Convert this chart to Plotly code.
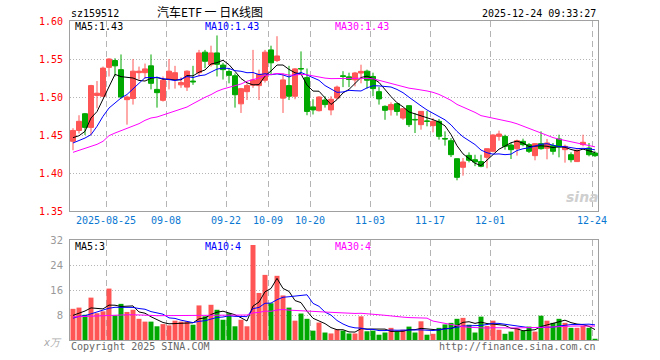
import plotly.graph_objects as go

# ---------------- data ----------------
dates = [
    "2025-08-15",
    "2025-08-18", "2025-08-19", "2025-08-20", "2025-08-21", "2025-08-22",
    "2025-08-25", "2025-08-26", "2025-08-27", "2025-08-28", "2025-08-29",
    "2025-09-01", "2025-09-02", "2025-09-03", "2025-09-04", "2025-09-05",
    "2025-09-08", "2025-09-09", "2025-09-10", "2025-09-11", "2025-09-12",
    "2025-09-15", "2025-09-16", "2025-09-17", "2025-09-18", "2025-09-19",
    "2025-09-22", "2025-09-23", "2025-09-24", "2025-09-25", "2025-09-26",
    "2025-09-29", "2025-09-30",
    "2025-10-09", "2025-10-10",
    "2025-10-13", "2025-10-14", "2025-10-15", "2025-10-16", "2025-10-17",
    "2025-10-20", "2025-10-21", "2025-10-22", "2025-10-23", "2025-10-24",
    "2025-10-27", "2025-10-28", "2025-10-29", "2025-10-30", "2025-10-31",
    "2025-11-03", "2025-11-04", "2025-11-05", "2025-11-06", "2025-11-07",
    "2025-11-10", "2025-11-11", "2025-11-12", "2025-11-13", "2025-11-14",
    "2025-11-17", "2025-11-18", "2025-11-19", "2025-11-20", "2025-11-21",
    "2025-11-24", "2025-11-25", "2025-11-26", "2025-11-27", "2025-11-28",
    "2025-12-01", "2025-12-02", "2025-12-03", "2025-12-04", "2025-12-05",
    "2025-12-08", "2025-12-09", "2025-12-10", "2025-12-11", "2025-12-12",
    "2025-12-15", "2025-12-16", "2025-12-17", "2025-12-18", "2025-12-19",
    "2025-12-22", "2025-12-23", "2025-12-24",
]

opens = [
    1.4417, 1.456, 1.478, 1.460, 1.502, 1.501, 1.539, 1.548, 1.536, 1.4965,
    1.498, 1.532, 1.532, 1.541, 1.510, 1.4956, 1.523, 1.523, 1.516, 1.513,
    1.521, 1.532, 1.559, 1.5425, 1.558, 1.542, 1.5335, 1.528, 1.491, 1.507,
    1.5155, 1.515, 1.522, 1.562, 1.548, 1.4985, 1.515, 1.501, 1.5375, 1.5255,
    1.487, 1.482, 1.496, 1.483, 1.4987, 1.528, 1.5265, 1.5225, 1.5315, 1.534,
    1.527, 1.507, 1.4877, 1.4833, 1.4912, 1.4723, 1.4886, 1.4705, 1.4636, 1.4685,
    1.4623, 1.468, 1.4454, 1.4425, 1.4188, 1.4075, 1.4232, 1.4175, 1.415, 1.4206,
    1.4285, 1.4482, 1.4482, 1.4368, 1.432, 1.4417, 1.4373, 1.4228, 1.4386, 1.4325,
    1.436, 1.4448, 1.4307, 1.4241, 1.415, 1.4373, 1.4329, 1.4263,
]
highs = [
    1.459, 1.476, 1.479, 1.516, 1.521, 1.540, 1.551, 1.551, 1.556, 1.502,
    1.550, 1.540, 1.544, 1.556, 1.527, 1.527, 1.550, 1.541, 1.526, 1.535,
    1.541, 1.562, 1.562, 1.5675, 1.581, 1.545, 1.538, 1.531, 1.512, 1.518,
    1.562, 1.536, 1.562, 1.5675, 1.580, 1.531, 1.541, 1.538, 1.560, 1.5375,
    1.497, 1.501, 1.501, 1.501, 1.515, 1.534, 1.532, 1.533, 1.5425, 1.536,
    1.532, 1.513, 1.489, 1.493, 1.492, 1.4855, 1.489, 1.479, 1.4815, 1.4815,
    1.4723, 1.4711, 1.4548, 1.446, 1.419, 1.4197, 1.4272, 1.424, 1.424, 1.432,
    1.451, 1.4557, 1.4504, 1.4395, 1.4439, 1.4452, 1.4395, 1.4387, 1.4548, 1.4448,
    1.4395, 1.4504, 1.4373, 1.4272, 1.4307, 1.4504, 1.4395, 1.4285,
]
lows = [
    1.430, 1.452, 1.450, 1.450, 1.485, 1.500, 1.527, 1.527, 1.498, 1.4636,
    1.490, 1.523, 1.524, 1.510, 1.486, 1.494, 1.510, 1.511, 1.512, 1.508,
    1.516, 1.527, 1.538, 1.540, 1.527, 1.523, 1.518, 1.486, 1.479, 1.496,
    1.512, 1.496, 1.519, 1.530, 1.546, 1.479, 1.496, 1.497, 1.530, 1.476,
    1.477, 1.481, 1.486, 1.476, 1.497, 1.513, 1.513, 1.514, 1.518, 1.511,
    1.501, 1.490, 1.470, 1.4755, 1.4755, 1.470, 1.4605, 1.4526, 1.457, 1.4614,
    1.4535, 1.4439, 1.436, 1.421, 1.3904, 1.3965, 1.414, 1.409, 1.4075, 1.4062,
    1.4272, 1.4425, 1.4307, 1.4184, 1.4228, 1.4351, 1.4263, 1.4167, 1.4307, 1.418,
    1.4241, 1.4206, 1.4136, 1.414, 1.4145, 1.4351, 1.4219, 1.421,
]
closes = [
    1.456, 1.468, 1.460, 1.515, 1.505, 1.538, 1.550, 1.541, 1.500, 1.500,
    1.534, 1.534, 1.537, 1.518, 1.5057, 1.522, 1.534, 1.532, 1.519, 1.534,
    1.520, 1.558, 1.547, 1.558, 1.543, 1.536, 1.5285, 1.503, 1.511, 1.515,
    1.5225, 1.530, 1.559, 1.545, 1.554, 1.5225, 1.501, 1.537, 1.537, 1.481,
    1.483, 1.500, 1.490, 1.497, 1.513, 1.527, 1.523, 1.5316, 1.5337, 1.522,
    1.511, 1.4975, 1.4825, 1.490, 1.481, 1.4846, 1.4636, 1.470, 1.4811, 1.468,
    1.468, 1.4482, 1.4448, 1.4241, 1.3943, 1.4145, 1.4167, 1.4145, 1.4088, 1.432,
    1.450, 1.4513, 1.4351, 1.4307, 1.4425, 1.4373, 1.4285, 1.4386, 1.432, 1.4395,
    1.4285, 1.4342, 1.4351, 1.4175, 1.430, 1.4404, 1.4241, 1.4228,
]
volumes = [
    10.0, 10.4, 8.1, 13.6, 8.6, 9.2, 16.5, 7.9, 11.6, 9.0,
    9.7, 6.8, 5.9, 5.9, 4.4, 5.1, 4.7, 6.2, 5.9, 5.9,
    4.9, 11.1, 7.6, 11.3, 9.7, 6.5, 8.6, 4.4, 6.5, 4.4,
    30.5, 15.1, 20.9, 11.8, 20.6, 14.3, 10.4, 6.2, 8.5, 6.8,
    3.0, 5.6, 2.4, 2.1, 3.4, 3.0, 2.1, 2.1, 7.6, 2.8,
    3.0, 1.7, 2.4, 3.9, 2.7, 3.3, 4.3, 2.4, 6.0, 1.7,
    2.0, 3.9, 5.0, 5.5, 6.8, 7.1, 4.9, 2.4, 7.5, 4.5,
    6.2, 3.3, 2.0, 2.7, 3.8, 3.0, 4.3, 2.7, 7.8, 6.2,
    5.5, 6.8, 5.5, 3.9, 3.9, 4.6, 3.9, 0.4,
]

# moving-average values before a full window is available
ma5_head = [1.4465, 1.449, 1.4548, 1.4724]
ma10_head = [1.4395, 1.4425, 1.446, 1.4504, 1.4614, 1.4746, 1.4855, 1.4921, 1.4987]
ma30_head = [
    1.4272, 1.4300, 1.4318, 1.4351, 1.4377, 1.4417, 1.4491, 1.4526, 1.4557, 1.4583,
    1.4623, 1.4649, 1.4693, 1.4724, 1.4737, 1.4763, 1.4789, 1.4811, 1.4833, 1.4868,
    1.4912, 1.4956, 1.4996, 1.5031, 1.5075, 1.5105, 1.5127, 1.5149, 1.5171,
]
vma5_head = [7.9, 8.5, 9.3, 10.3]
vma10_head = [7.0, 7.6, 7.8, 8.4, 8.9, 9.5, 10.2, 10.5, 10.5]
vma30_head = [
    7.4, 7.5, 7.6, 7.7, 7.8, 7.9, 8.0, 8.0, 8.1, 8.1,
    8.1, 8.1, 8.0, 7.9, 7.8, 7.8, 7.8, 7.8, 7.8, 7.8,
    7.8, 7.8, 7.8, 7.8, 7.8, 7.8, 7.8, 7.8, 7.9,
]

tick_dates = ["2025-08-25", "2025-09-08", "2025-09-22", "2025-10-09", "2025-10-20",
              "2025-11-03", "2025-11-17", "2025-12-01", "2025-12-24"]
tick_labels = ["2025-08-25", "09-08", "09-22", "10-09", "10-20",
               "11-03", "11-17", "12-01", "12-24"]
price_ticks = [1.35, 1.40, 1.45, 1.50, 1.55, 1.60]
vol_ticks = [8, 16, 24, 32]


def rolling(vals, n, head):
    out = list(head)
    for i in range(len(head), len(vals)):
        out.append(sum(vals[i - n + 1:i + 1]) / n)
    return out


ma5 = rolling(closes, 5, ma5_head)
ma10 = rolling(closes, 10, ma10_head)
ma30 = rolling(closes, 30, ma30_head)
vma5 = rolling(volumes, 5, vma5_head)
vma10 = rolling(volumes, 10, vma10_head)
vma30 = rolling(volumes, 30, vma30_head)

pos = list(range(len(dates)))
tick_pos = [dates.index(d) - 0.5 for d in tick_dates]

UP = "#ff5555"
DOWN = "#00a800"
vol_colors = [UP if c >= o else DOWN for o, c in zip(opens, closes)]

MONO = "DejaVu Sans Mono"
GRID = "#b4b4b4"
BORDER = "#a0a0a0"

fig = go.Figure()
fig.add_trace(go.Candlestick(
    x=pos, open=opens, high=highs, low=lows, close=closes,
    increasing=dict(line=dict(color=UP, width=1), fillcolor=UP),
    decreasing=dict(line=dict(color=DOWN, width=1), fillcolor=DOWN),
    whiskerwidth=0, xaxis="x", yaxis="y", hoverinfo="skip",
))
for vals, col in [(ma5, "#000000"), (ma10, "#0000ff"), (ma30, "#ff00ff")]:
    fig.add_trace(go.Scatter(x=pos, y=vals, mode="lines", line=dict(color=col, width=1),
                             xaxis="x", yaxis="y", hoverinfo="skip"))

fig.add_trace(go.Bar(x=pos, y=volumes, marker=dict(color=vol_colors, line=dict(width=0)),
                     xaxis="x2", yaxis="y2", hoverinfo="skip"))
for vals, col in [(vma5, "#000000"), (vma10, "#0000ff"), (vma30, "#ff00ff")]:
    fig.add_trace(go.Scatter(x=pos, y=vals, mode="lines", line=dict(color=col, width=1),
                             xaxis="x2", yaxis="y2", hoverinfo="skip"))

# pixel -> paper helpers (plot area spans x 70..598, y 21..340)
L, R, T, B = 70, 598, 21, 340


def px(xp):
    return (xp - L) / (R - L)


def py(yp):
    return (B - yp) / (B - T)


xr = [-0.5, len(dates) - 0.5]
axis_common = dict(showline=True, mirror=True, linecolor=BORDER, linewidth=1,
                   zeroline=False, ticks="", fixedrange=True)

fig.update_layout(
    width=660, height=360,
    margin=dict(l=L, r=660 - R, t=T, b=360 - B),
    paper_bgcolor="white", plot_bgcolor="white",
    showlegend=False, hovermode=False,
    boxgap=0.17, boxgroupgap=0, bargap=0.17,
    xaxis=dict(domain=[0, 1], anchor="y", range=xr, tickvals=tick_pos, ticktext=tick_labels,
               showgrid=True, gridcolor=GRID, griddash="6px,4px", gridwidth=1,
               tickfont=dict(family=MONO, size=10, color="#0a78d2"),
               rangeslider=dict(visible=False), **axis_common),
    yaxis=dict(domain=[py(211), 1], anchor="x", range=[1.35, 1.60],
               tickvals=price_ticks, ticktext=["%.2f" % v for v in price_ticks],
               showgrid=True, gridcolor=GRID, griddash="1px,2px", gridwidth=1,
               tickfont=dict(family=MONO, size=10, color="#ff0000"),
               ticklabelstandoff=4, **axis_common),
    xaxis2=dict(domain=[0, 1], anchor="y2", range=xr, tickvals=tick_pos,
                showticklabels=False, showgrid=True, gridcolor=GRID,
                griddash="6px,4px", gridwidth=1, **axis_common),
    yaxis2=dict(domain=[0, py(240.3)], anchor="x2", range=[0, 32],
                tickvals=vol_ticks, ticktext=[str(v) for v in vol_ticks],
                showgrid=True, gridcolor=GRID, griddash="1px,2px", gridwidth=1,
                tickfont=dict(family="DejaVu Sans", size=10, color="#999999"),
                ticklabelstandoff=4, **axis_common),
)


def note(text, x, y, color="#000000", size=10, family=MONO, xanchor="left"):
    fig.add_annotation(text=text, x=px(x), y=py(y), xref="paper", yref="paper",
                       xanchor=xanchor, yanchor="middle", showarrow=False,
                       font=dict(family=family, size=size, color=color))


note("sz159512", 69, 13)
note("汽车ETF\u00a0一\u00a0日K线图", 209.5, 11.5, size=12, family="Noto Sans CJK SC", xanchor="center")
note("2025-12-24 09:33:27", 598, 13, xanchor="right")
note("MA5:1.43", 73, 26.5)
note("MA10:1.43", 203, 26.5, color="#0000ff")
note("MA30:1.43", 333, 26.5, color="#ff00ff")
note("MA5:3", 73, 246.5)
note("MA10:4", 203, 246.5, color="#0000ff")
note("MA30:4", 333, 246.5, color="#ff00ff")
note("Copyright 2025 SINA.COM", 69, 346, color="#666666")
note("http://finance.sina.com.cn", 598, 346, color="#666666", xanchor="right")
note("<i>x万</i>", 64, 342, color="#aaaaaa", size=10, family="DejaVu Sans", xanchor="right")
note("<b><i>sina</i></b>", 582, 197, color="#cfcfcf", size=14, family="DejaVu Sans",
     xanchor="center")

fig.write_html("out.html", config={"displayModeBar": False, "staticPlot": True},
               post_script="document.body.style.margin='0';document.body.style.overflow='hidden';")
